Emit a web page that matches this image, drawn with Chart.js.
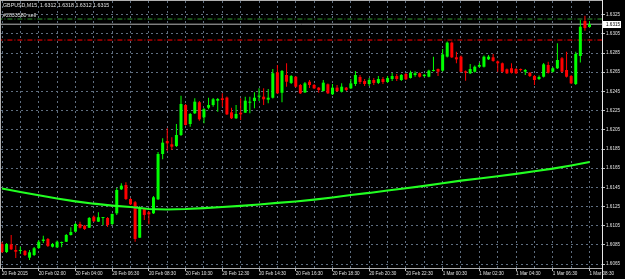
<!DOCTYPE html>
<html>
<head>
<meta charset="utf-8">
<script src="https://cdn.jsdelivr.net/npm/chart.js@4.4.1/dist/chart.umd.min.js"></script>
<style>
body { margin:0; background:#000; }
#wrap { width:625px; height:279px; }
</style>
</head>
<body>
<div id="wrap"><canvas id="chart" width="625" height="279"></canvas></div>
<script>
// GBPUSD M15 candles, bar index 0..128
var openP = [1.60860,1.60777,1.60857,1.60798,1.60788,1.60788,1.60718,1.60746,1.60819,1.60892,
1.60913,1.60832,1.60826,1.60871,1.60884,1.60954,1.60989,1.61069,1.61051,1.61030,
1.61145,1.61093,1.61131,1.61131,1.61069,1.61180,1.61430,1.61475,1.61329,1.61295,
1.60926,1.61225,1.61191,1.61180,1.61326,1.61798,1.61933,1.61899,1.61881,1.61996,
1.62308,1.62110,1.62222,1.62337,1.62180,1.62280,1.62308,1.62353,1.62378,1.62386,
1.62232,1.62170,1.62228,1.62228,1.62332,1.62350,1.62395,1.62395,1.62364,1.62384,
1.62649,1.62436,1.62621,1.62538,1.62603,1.62517,1.62439,1.62551,1.62517,1.62489,
1.62454,1.62524,1.62420,1.62489,1.62447,1.62489,1.62482,1.62527,1.62600,1.62558,
1.62527,1.62569,1.62538,1.62579,1.62548,1.62579,1.62610,1.62569,1.62631,1.62590,
1.62621,1.62639,1.62610,1.62603,1.62663,1.62683,1.62666,1.62812,1.62958,1.62805,
1.62812,1.62659,1.62639,1.62655,1.62707,1.62707,1.62784,1.62805,1.62763,1.62743,
1.62680,1.62691,1.62683,1.62683,1.62655,1.62645,1.62610,1.62579,1.62603,1.62725,
1.62655,1.62691,1.62795,1.62673,1.62610,1.62527,1.62819,1.63183,1.63120];
var highP = [1.60881,1.60871,1.60954,1.60847,1.60832,1.60798,1.60798,1.60829,1.60902,1.60947,
1.60923,1.60871,1.60897,1.60886,1.60965,1.61034,1.61079,1.61093,1.61058,1.61142,
1.61157,1.61191,1.61142,1.61142,1.61178,1.61444,1.61493,1.61503,1.61340,1.61308,
1.61256,1.61232,1.61204,1.61360,1.61819,1.61961,1.62066,1.61972,1.62110,1.62405,
1.62319,1.62225,1.62378,1.62350,1.62277,1.62384,1.62381,1.62381,1.62430,1.62397,
1.62280,1.62308,1.62378,1.62395,1.62395,1.62441,1.62482,1.62482,1.62475,1.62683,
1.62725,1.62673,1.62743,1.62621,1.62610,1.62527,1.62548,1.62569,1.62527,1.62496,
1.62569,1.62532,1.62527,1.62517,1.62534,1.62496,1.62579,1.62663,1.62621,1.62579,
1.62589,1.62589,1.62610,1.62600,1.62610,1.62642,1.62631,1.62631,1.62642,1.62666,
1.62660,1.62647,1.62631,1.62676,1.62812,1.62689,1.62892,1.62970,1.62970,1.62864,
1.62824,1.62668,1.62735,1.62720,1.62749,1.62824,1.62829,1.62840,1.62772,1.62751,
1.62689,1.62743,1.62694,1.62689,1.62683,1.62650,1.62621,1.62616,1.62746,1.62759,
1.62704,1.62951,1.62808,1.62864,1.62621,1.62864,1.63194,1.63239,1.63180];
var lowP = [1.60767,1.60767,1.60798,1.60715,1.60756,1.60735,1.60694,1.60735,1.60808,1.60871,
1.60829,1.60824,1.60819,1.60826,1.60881,1.60949,1.60985,1.61022,1.61006,1.61027,
1.61090,1.61090,1.61055,1.61038,1.61058,1.61163,1.61423,1.61319,1.61267,1.60884,
1.60923,1.61110,1.61066,1.61173,1.61319,1.61743,1.61832,1.61840,1.61871,1.61985,
1.62095,1.62082,1.62215,1.62145,1.62118,1.62264,1.62291,1.62239,1.62291,1.62204,
1.62163,1.62163,1.62152,1.62225,1.62222,1.62274,1.62350,1.62308,1.62326,1.62376,
1.62423,1.62337,1.62499,1.62527,1.62491,1.62423,1.62433,1.62485,1.62475,1.62436,
1.62449,1.62423,1.62413,1.62444,1.62439,1.62454,1.62475,1.62506,1.62527,1.62506,
1.62506,1.62517,1.62527,1.62527,1.62538,1.62558,1.62558,1.62558,1.62569,1.62584,
1.62603,1.62595,1.62597,1.62597,1.62657,1.62610,1.62657,1.62803,1.62798,1.62743,
1.62647,1.62562,1.62631,1.62647,1.62697,1.62699,1.62777,1.62759,1.62655,1.62647,
1.62631,1.62637,1.62631,1.62657,1.62621,1.62600,1.62517,1.62569,1.62595,1.62637,
1.62647,1.62683,1.62647,1.62595,1.62527,1.62517,1.62750,1.63082,1.63120];
var closeP = [1.60777,1.60860,1.60805,1.60780,1.60793,1.60746,1.60774,1.60816,1.60884,1.60907,
1.60840,1.60860,1.60884,1.60881,1.60954,1.60985,1.61069,1.61030,1.61017,1.61131,
1.61097,1.61139,1.61139,1.61058,1.61173,1.61423,1.61468,1.61329,1.61274,1.60913,
1.61239,1.61163,1.61170,1.61347,1.61798,1.61916,1.61909,1.61874,1.61996,1.62319,
1.62100,1.62215,1.62343,1.62159,1.62264,1.62308,1.62368,1.62371,1.62360,1.62211,
1.62170,1.62215,1.62211,1.62353,1.62343,1.62384,1.62405,1.62368,1.62384,1.62639,
1.62430,1.62663,1.62551,1.62610,1.62499,1.62430,1.62534,1.62517,1.62482,1.62465,
1.62541,1.62430,1.62489,1.62454,1.62499,1.62465,1.62534,1.62621,1.62548,1.62527,
1.62569,1.62538,1.62579,1.62548,1.62589,1.62610,1.62579,1.62621,1.62576,1.62645,
1.62639,1.62603,1.62624,1.62666,1.62673,1.62655,1.62836,1.62958,1.62805,1.62784,
1.62655,1.62645,1.62683,1.62707,1.62725,1.62812,1.62812,1.62767,1.62743,1.62655,
1.62639,1.62645,1.62639,1.62673,1.62673,1.62610,1.62569,1.62600,1.62732,1.62645,
1.62691,1.62777,1.62655,1.62603,1.62534,1.62840,1.63124,1.63110,1.63150];

// moving average, read every 4 bars
var maBars = [0,4,8,12,16,20,24,28,32,36,40,44,48,52,56,60,64,68,72,76,80,84,88,92,96,100,104,108,112,116,120,124,128];
var maVal = [1.61439,1.61402,1.61368,1.61334,1.61305,1.61280,1.61261,1.61246,1.61225,1.61220,1.61225,1.61235,1.61246,
1.61258,1.61272,1.61288,1.61303,1.61322,1.61345,1.61371,1.61392,1.61418,1.61441,1.61465,1.61493,1.61520,
1.61543,1.61566,1.61590,1.61618,1.61645,1.61678,1.61715];

var xTickBars = [0,8,16,24,32,40,48,56,64,72,80,88,96,104,112,120,128];
var xTickLabels = ["20 Feb 2015","20 Feb 02:00","20 Feb 04:00","20 Feb 06:30","20 Feb 08:30","20 Feb 10:30",
"20 Feb 12:30","20 Feb 14:30","20 Feb 16:30","20 Feb 18:30","20 Feb 20:30","20 Feb 22:30",
"1 Mar 00:30","1 Mar 02:30","1 Mar 04:30","1 Mar 06:30","1 Mar 08:30"];
var yTicks = [1.6065,1.6085,1.6105,1.6125,1.6145,1.6165,1.6185,1.6205,1.6225,1.6245,1.6265,1.6285,1.6305,1.6325];

var bidPrice = 1.6315;
var sellLine = 1.63204;
var stopLine = 1.62985;
var title = "GBPUSD,M15  1.6312 1.6318 1.6312 1.6315";
var orderText = "#2833580 sell";

var idx = openP.map(function(o, i) { return i; });
var wicks = idx.map(function(i) { return {x: i, y: [lowP[i], highP[i]]}; });
var bodies = idx.map(function(i) { return {x: i, y: [openP[i], closeP[i]]}; });
var colors = idx.map(function(i) { return closeP[i] >= openP[i] ? '#00ff00' : '#ff0000'; });
var ma = maBars.map(function(b, k) { return {x: b, y: maVal[k]}; });

function hline(p, color, dash) {
    return {
        type: 'line',
        data: [{x: -1, y: p}, {x: 135, y: p}],
        borderColor: color,
        borderWidth: 1,
        borderDash: dash,
        pointRadius: 0,
        order: 3
    };
}

// frame, texts and bid box
var frame = {
    id: 'frame',
    afterDraw: function(chart) {
        var ctx = chart.ctx, a = chart.chartArea;
        ctx.save();
        ctx.lineWidth = 1;
        ctx.strokeStyle = '#b0b0b0';
        ctx.beginPath();
        ctx.moveTo(0, a.top - 0.5); ctx.lineTo(a.right, a.top - 0.5);
        ctx.moveTo(a.left - 0.5, 0); ctx.lineTo(a.left - 0.5, a.bottom);
        ctx.moveTo(0, a.bottom + 0.5); ctx.lineTo(a.right, a.bottom + 0.5);
        ctx.stroke();
        ctx.strokeStyle = '#e8e8e8';
        ctx.beginPath();
        ctx.moveTo(a.right + 0.5, 0); ctx.lineTo(a.right + 0.5, 279);
        ctx.stroke();

        ctx.font = '5.3px "Liberation Sans"';
        ctx.fillStyle = '#e0e0e0';
        ctx.textBaseline = 'middle';
        ctx.textAlign = 'left';
        ctx.fillText(title, 3, 6);
        ctx.fillText(orderText, 3, 16);

        var by = chart.scales.y.getPixelForValue(bidPrice);
        ctx.fillStyle = '#ffffff';
        ctx.fillRect(a.right + 1, Math.round(by) - 3, 18, 7);
        ctx.fillStyle = '#000000';
        ctx.font = '4.6px "Liberation Sans"';
        ctx.fillText(bidPrice.toFixed(4), a.right + 4, Math.round(by) + 0.5);
        ctx.restore();
    }
};

new Chart(document.getElementById('chart').getContext('2d'), {
    type: 'bar',
    data: {
        datasets: [
            {
                type: 'line',
                data: ma,
                borderColor: '#22ff22',
                borderWidth: 2.2,
                pointRadius: 0,
                tension: 0,
                order: 0
            },
            {
                data: bodies,
                backgroundColor: colors,
                borderWidth: 0,
                grouped: false,
                maxBarThickness: 3,
                minBarLength: 1,
                order: 1
            },
            {
                data: wicks,
                backgroundColor: colors,
                borderWidth: 0,
                grouped: false,
                maxBarThickness: 1,
                order: 2
            },
            hline(sellLine, '#2f9a2f', [5, 2, 1, 2]),
            hline(stopLine, '#ff0000', [5, 2, 1, 2]),
            hline(bidPrice, '#b8b8b8', [])
        ]
    },
    options: {
        responsive: false,
        animation: false,
        devicePixelRatio: 1,
        events: [],
        layout: { padding: { left: 1, top: 1, right: 0, bottom: 0 } },
        plugins: { legend: { display: false }, tooltip: { enabled: false } },
        scales: {
            x: {
                type: 'linear',
                min: -0.218,
                max: 130.72,
                offset: false,
                grid: {
                    offset: false,
                    color: '#5f6e80',
                    tickLength: 3,
                    tickColor: function(c) { return c.index % 2 === 0 ? '#c0c0c0' : 'rgba(0,0,0,0)'; },
                    tickBorderDash: []
                },
                border: { display: false, dash: [2, 3] },
                afterBuildTicks: function(s) {
                    var t = [];
                    for (var v = 0; v <= 128; v += 4) t.push({value: v});
                    s.ticks = t;
                },
                afterFit: function(s) { s.height = 11; s.paddingLeft = 0; s.paddingRight = 0; },
                ticks: {
                    autoSkip: false,
                    maxRotation: 0,
                    minRotation: 0,
                    align: 'start',
                    padding: 0,
                    color: '#e0e0e0',
                    font: { family: 'Liberation Sans', size: 4.6 },
                    callback: function(v) {
                        var k = xTickBars.indexOf(v);
                        return k < 0 ? '' : xTickLabels[k];
                    }
                }
            },
            y: {
                type: 'linear',
                position: 'right',
                min: 1.606104,
                max: 1.633917,
                grid: {
                    color: '#5f6e80',
                    tickLength: 3,
                    tickColor: '#c0c0c0',
                    tickBorderDash: []
                },
                border: { display: false, dash: [2, 3] },
                afterBuildTicks: function(s) {
                    s.ticks = yTicks.map(function(v) { return {value: v}; });
                },
                afterFit: function(s) { s.width = 23; s.paddingTop = 0; s.paddingBottom = 0; },
                ticks: {
                    autoSkip: false,
                    padding: 1,
                    color: '#e0e0e0',
                    font: { family: 'Liberation Sans', size: 4.6 },
                    callback: function(v) { return v.toFixed(4); }
                }
            }
        }
    },
    plugins: [frame]
});
</script>
</body>
</html>
